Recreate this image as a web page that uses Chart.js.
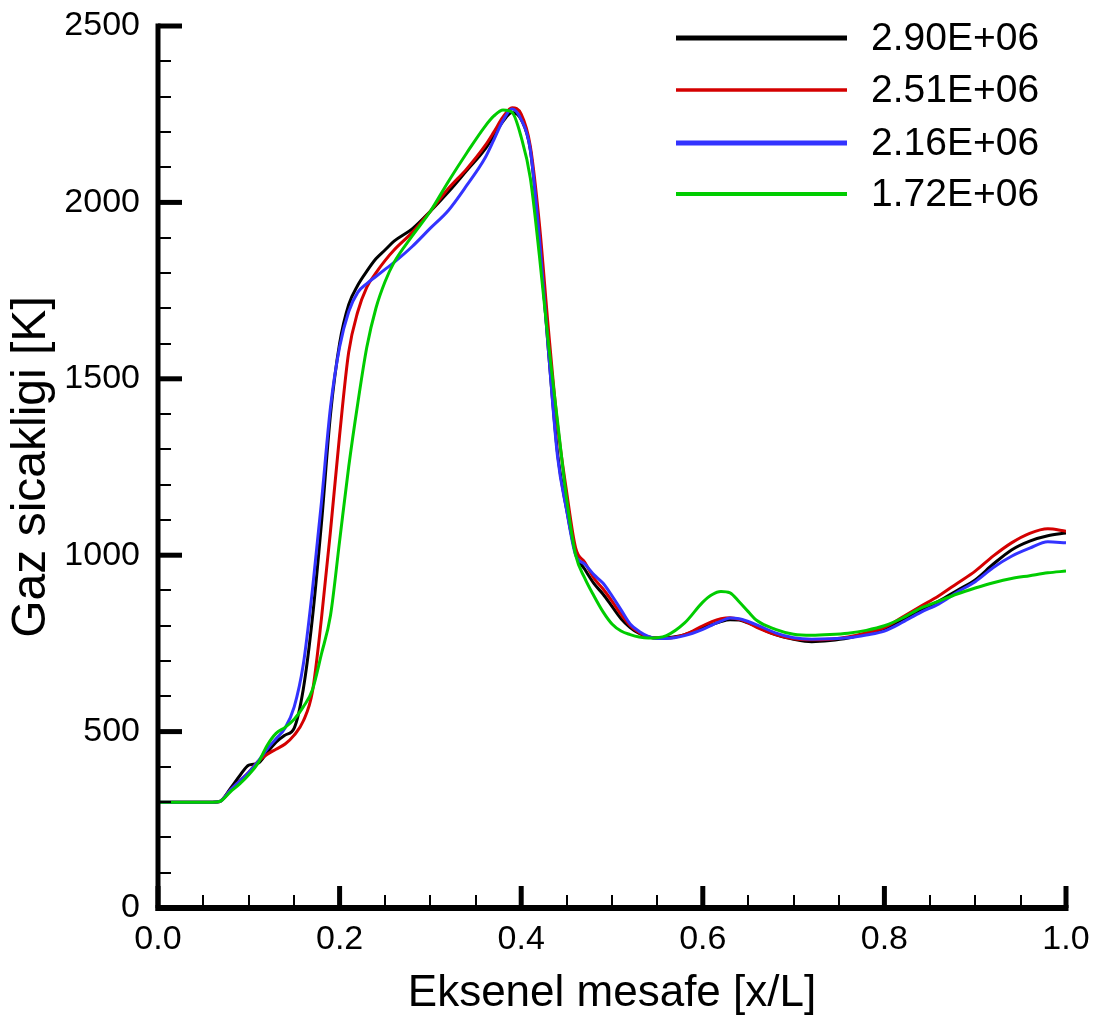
<!DOCTYPE html>
<html><head><meta charset="utf-8">
<script src="https://cdn.jsdelivr.net/npm/chart.js@4.4.0/dist/chart.umd.min.js"></script>
<style>html,body{margin:0;padding:0;background:#fff}#wrap{width:1100px;height:1024px;position:relative}</style>
</head><body><div id="wrap"><canvas id="c"></canvas></div>
<script>
// ---- data ----
const xValues = [0,0.02,0.04,0.06,0.068,0.08,0.09,0.10,0.11,0.12,0.13,0.14,0.15,0.16,0.17,0.18,0.19,0.20,0.21,0.22,0.23,0.24,0.25,0.26,0.28,0.30,0.32,0.34,0.36,0.37,0.38,0.39,0.40,0.41,0.42,0.43,0.44,0.45,0.46,0.47,0.48,0.49,0.50,0.51,0.52,0.53,0.54,0.55,0.56,0.58,0.60,0.61,0.62,0.63,0.64,0.65,0.66,0.68,0.70,0.72,0.74,0.76,0.78,0.80,0.82,0.84,0.86,0.88,0.90,0.92,0.94,0.96,0.98,1.00];
const series290 = [300,300,300,300,302,340,375,405,410,440,470,490,510,620,820,1090,1400,1600,1710,1765,1805,1840,1865,1890,1925,1975,2030,2090,2150,2190,2230,2255,2235,2150,1900,1580,1290,1130,1005,960,920,890,855,820,795,778,768,765,766,775,795,803,812,817,816,808,797,775,762,755,758,765,778,792,818,845,870,900,930,975,1015,1040,1055,1063];
const series251 = [300,300,300,300,302,335,360,385,415,435,450,465,490,530,612,820,1070,1340,1575,1690,1760,1800,1835,1865,1915,1975,2040,2095,2160,2200,2242,2268,2250,2160,1940,1640,1370,1180,1020,980,935,905,870,832,800,780,768,765,765,775,800,812,820,823,818,808,795,775,763,760,762,768,780,795,825,855,885,920,955,998,1035,1062,1075,1068];
const series216 = [300,300,300,300,302,335,360,385,415,450,480,510,570,690,900,1150,1420,1590,1690,1745,1770,1790,1810,1830,1875,1927,1978,2048,2125,2178,2232,2265,2235,2150,1900,1580,1280,1128,1000,975,945,921,885,845,805,784,770,764,764,772,790,802,813,822,820,812,802,780,766,762,763,766,774,785,810,838,862,895,925,965,997,1020,1038,1035];
const series172 = [300,300,300,300,302,330,352,378,410,460,495,512,535,570,618,720,830,1040,1250,1430,1590,1700,1775,1830,1905,1975,2060,2140,2215,2245,2262,2255,2185,2070,1850,1600,1380,1160,1000,935,885,840,805,785,775,768,765,766,772,808,867,888,897,893,868,840,814,790,776,773,775,779,787,800,822,850,870,890,907,922,934,942,950,955];
const seriesLabels = ['2.90E+06','2.51E+06','2.16E+06','1.72E+06'];
const seriesColors = ['#000000','#d40000','#3333ff','#00cc00'];
const legendLineWidths = [5,3.5,5,4];
const xTicks = [0.0,0.2,0.4,0.6,0.8,1.0];
const yTicks = [0,500,1000,1500,2000,2500];
const xMinorStep = 0.05;
const yMinorStep = 100;

const allSeries = [series290, series251, series216, series172];
const FONT = '"Liberation Sans", Arial, Helvetica, sans-serif';

const datasets = allSeries.map((s, i) => ({
  label: seriesLabels[i],
  data: xValues.map((x, j) => ({x: x, y: s[j]})),
  borderColor: seriesColors[i],
  backgroundColor: seriesColors[i],
  borderWidth: 3,
  pointRadius: 0,
  fill: false,
  cubicInterpolationMode: 'monotone',
  order: allSeries.length - i
}));

const axesPlugin = {
  id: 'axesPlugin',
  afterDatasetsDraw(chart) {
    const ctx = chart.ctx;
    const xs = chart.scales.x, ys = chart.scales.y;
    const ca = chart.chartArea;
    ctx.save();
    ctx.strokeStyle = '#000';
    ctx.lineCap = 'butt';
    ctx.lineWidth = 2;
    for (let v = 0; v <= 2500 + 1e-6; v += yMinorStep) {
      const y = Math.round(ys.getPixelForValue(v));
      ctx.beginPath(); ctx.moveTo(ca.left, y); ctx.lineTo(ca.left + 13, y); ctx.stroke();
    }
    for (let v = 0; v <= 1 + 1e-6; v += xMinorStep) {
      const x = Math.round(xs.getPixelForValue(v));
      ctx.beginPath(); ctx.moveTo(x, ca.bottom); ctx.lineTo(x, ca.bottom - 13); ctx.stroke();
    }
    ctx.lineWidth = 5;
    yTicks.forEach(v => {
      const y = ys.getPixelForValue(v);
      ctx.beginPath(); ctx.moveTo(ca.left, y); ctx.lineTo(ca.left + 24, y); ctx.stroke();
    });
    xTicks.forEach(v => {
      const x = xs.getPixelForValue(v);
      ctx.beginPath(); ctx.moveTo(x, ca.bottom); ctx.lineTo(x, ca.bottom - 22); ctx.stroke();
    });
    ctx.lineWidth = 5;
    ctx.beginPath(); ctx.moveTo(ca.left, ca.top - 2.5); ctx.lineTo(ca.left, ca.bottom + 3); ctx.stroke();
    ctx.lineWidth = 6;
    ctx.beginPath(); ctx.moveTo(ca.left - 2.5, ca.bottom); ctx.lineTo(ca.right + 2.5, ca.bottom); ctx.stroke();
    ctx.restore();
  },
  afterDraw(chart) {
    const ctx = chart.ctx;
    ctx.save();
    const x0 = 676, x1 = 847, tx = 871;
    const ys0 = [38, 90, 143, 194];
    ctx.font = '39px ' + FONT;
    ctx.textBaseline = 'middle';
    ctx.textAlign = 'left';
    chart.data.datasets.forEach((ds, i) => {
      ctx.strokeStyle = ds.borderColor;
      ctx.lineWidth = legendLineWidths[i];
      ctx.beginPath(); ctx.moveTo(x0, ys0[i]); ctx.lineTo(x1, ys0[i]); ctx.stroke();
      ctx.fillStyle = '#000';
      ctx.fillText(ds.label, tx, ys0[i] + 1);
    });
    ctx.restore();
  }
};

new Chart(document.getElementById('c'), {
  type: 'line',
  data: { datasets: datasets },
  options: {
    responsive: true,
    maintainAspectRatio: false,
    animation: false,
    layout: { padding: { left: 0, top: 26, right: 34, bottom: 0 } },
    plugins: { legend: { display: false }, tooltip: { enabled: false } },
    scales: {
      x: {
        type: 'linear', min: 0, max: 1,
        afterFit: s => { s.height = 116; s.paddingLeft = 0; s.paddingRight = 0; },
        afterBuildTicks: s => { s.ticks = xTicks.map(v => ({value: v})); },
        grid: { display: false, drawTicks: false },
        border: { display: false },
        ticks: { padding: 11, color: '#000', font: { family: FONT, size: 34 }, callback: v => Number(v).toFixed(1), maxRotation: 0 },
        title: { display: true, text: 'Eksenel mesafe [x/L]', color: '#000', font: { family: FONT, size: 44 }, padding: { bottom: 4, top: 0 } }
      },
      y: {
        type: 'linear', min: 0, max: 2500,
        afterFit: s => { s.width = 158; s.paddingTop = 0; s.paddingBottom = 0; },
        afterBuildTicks: s => { s.ticks = yTicks.map(v => ({value: v})); },
        grid: { display: false, drawTicks: false },
        border: { display: false },
        ticks: { padding: 18, color: '#000', font: { family: FONT, size: 34 }, callback: v => String(v) },
        title: { display: true, text: 'Gaz sicakligi [K]', color: '#000', font: { family: FONT, size: 48 }, padding: { top: 3, bottom: 0 } }
      }
    }
  },
  plugins: [axesPlugin]
});
</script>
</body></html>
